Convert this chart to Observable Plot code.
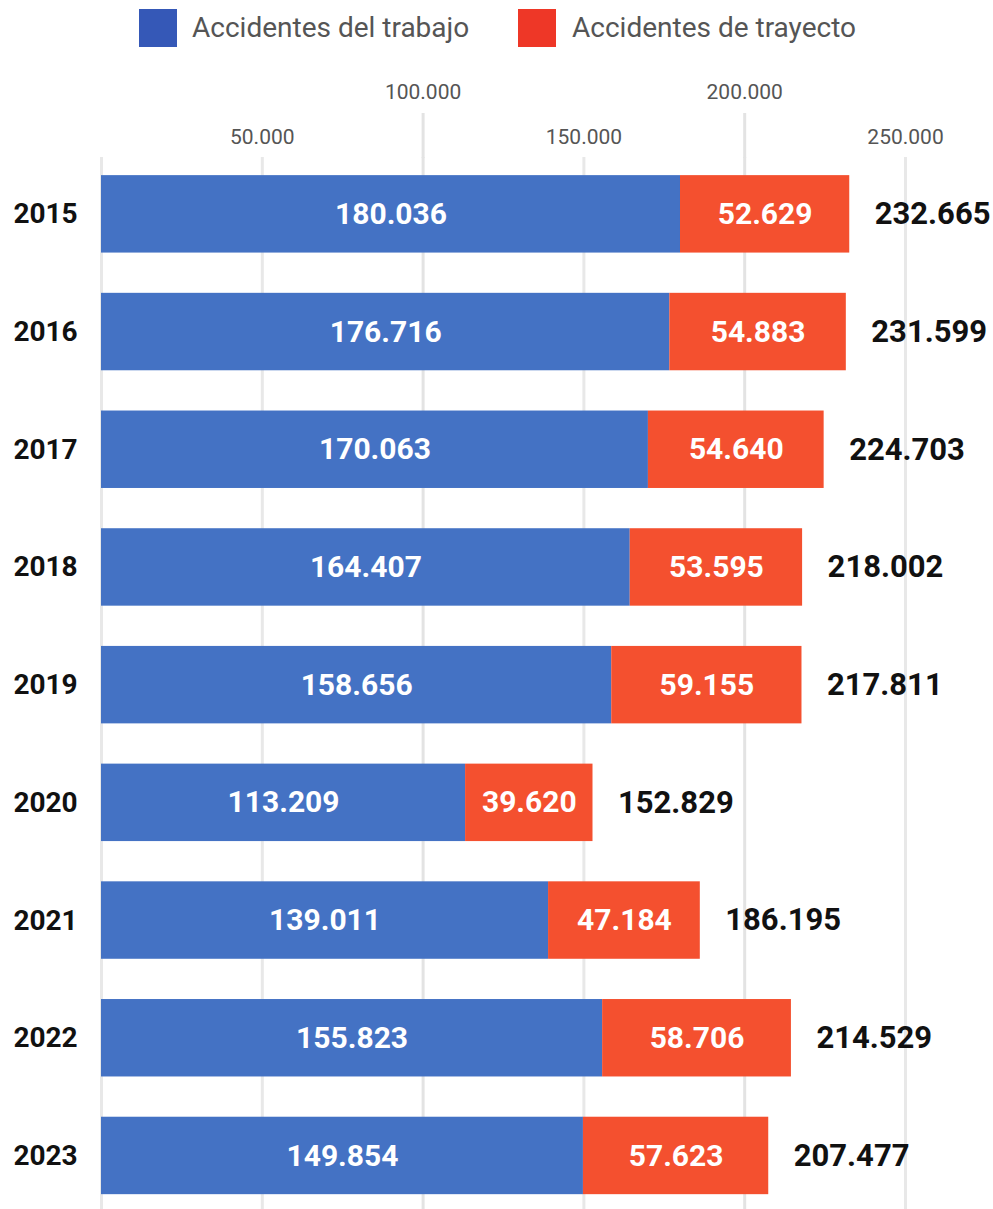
<!DOCTYPE html>
<html>
<head>
<meta charset="utf-8">
<script src="https://cdn.jsdelivr.net/npm/d3@7"></script>
<script src="https://cdn.jsdelivr.net/npm/@observablehq/plot@0.6"></script>
<style>
  html, body { margin: 0; padding: 0; background: #fff; }
  #wrap { position: relative; width: 993px; font-family: Roboto, sans-serif; }
  #legend { position: relative; height: 55px; }
  .sw { position: absolute; top: 9px; width: 38px; height: 38px; }
  .lt { position: absolute; top: 9px; line-height: 38px; font-size: 28px; color: #555; }
  svg { display: block; }
</style>
</head>
<body>
<div id="wrap">
  <div id="legend"></div>
  <div id="chart"></div>
</div>
<script>
const years = ["2015","2016","2017","2018","2019","2020","2021","2022","2023"];
const trabajo = [180036,176716,170063,164407,158656,113209,139011,155823,149854];
const trayecto = [52629,54883,54640,53595,59155,39620,47184,58706,57623];
const totals = [232665,231599,224703,218002,217811,152829,186195,214529,207477];
const series = ["Accidentes del trabajo","Accidentes de trayecto"];
const barColors = ["#4472c4","#f4502f"];
const swatchColors = ["#3558b7","#ee3727"];
const lowTicks = [50000,150000,250000];
const highTicks = [100000,200000];
const gridLow = [0,50000,150000,250000];

const fmt = d3.formatLocale({decimal: ",", thousands: ".", grouping: [3], currency: ["", ""]}).format(",d");

// legend
const legend = document.getElementById("legend");
const legPos = [[139, 192], [518, 572]];
series.forEach((s, i) => {
  const sw = document.createElement("div");
  sw.className = "sw"; sw.style.left = legPos[i][0] + "px"; sw.style.background = swatchColors[i];
  const t = document.createElement("div");
  t.className = "lt"; t.style.left = legPos[i][1] + "px"; t.textContent = s;
  legend.appendChild(sw); legend.appendChild(t);
});

const data = years.flatMap((y, i) => [
  {year: y, serie: series[0], value: trabajo[i]},
  {year: y, serie: series[1], value: trayecto[i]}
]);
const totalData = years.map((y, i) => ({year: y, total: totals[i]}));

const chart = Plot.plot({
  width: 993,
  height: 1154,
  marginLeft: 101,
  marginRight: 7.6,
  marginTop: 102,
  marginBottom: 0,
  style: {fontFamily: "Roboto, sans-serif", background: "white", overflow: "visible"},
  x: {domain: [0, 275000], label: null},
  y: {domain: years, paddingInner: 0.342, paddingOuter: 0.14, align: 0.55, round: false, label: null},
  color: {domain: series, range: barColors},
  marks: [
    Plot.ruleX(gridLow, {stroke: "#e8e8e8", strokeWidth: 3}),
    Plot.ruleX(highTicks, {stroke: "#e3e3e3", strokeWidth: 3}),
    Plot.axisX(highTicks, {anchor: "top", tickSize: 45, tickPadding: 14, stroke: "#e3e3e3", strokeWidth: 3, fill: "#555", fontSize: 21, tickFormat: fmt, label: null}),
    Plot.axisX(lowTicks, {anchor: "top", tickSize: 0, tickPadding: 14, fill: "#555", fontSize: 21, tickFormat: fmt, label: null}),
    Plot.axisY({tickSize: 0, tickPadding: 56, textAnchor: "middle", fontSize: 28, fontWeight: "bold", fill: "#111", label: null}),
    Plot.barX(data, Plot.stackX({x: "value", y: "year", z: "serie", fill: "serie"})),
    Plot.text(data, Plot.stackX({x: "value", y: "year", z: "serie", text: d => fmt(d.value), fill: "white", fontSize: 30, fontWeight: "bold"})),
    Plot.text(totalData, {x: "total", y: "year", text: d => fmt(d.total), textAnchor: "start", dx: 25, fontSize: 31, fontWeight: "bold", fill: "#111"})
  ]
});
document.getElementById("chart").appendChild(chart);
</script>
</body>
</html>
